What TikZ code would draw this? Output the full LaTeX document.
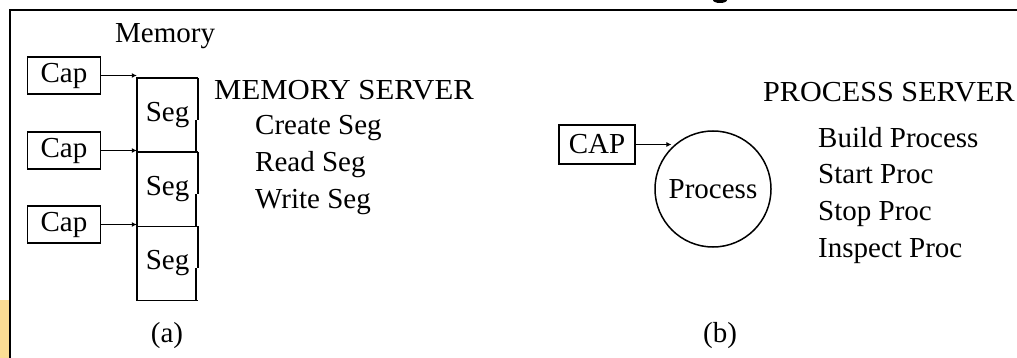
\documentclass[tikz,border=0pt]{standalone}
\usepackage{fontspec}
\setmainfont{Liberation Serif}
\usetikzlibrary{arrows.meta}
\definecolor{tabfill}{RGB}{251,221,148}
\tikzset{
  every node/.style={font=\fontsize{29pt}{36pt}\selectfont, inner sep=0pt},
  capbox/.style={draw, line width=1.5pt, rectangle, minimum width=73pt, minimum height=37pt},
  segcell/.style={rectangle, minimum width=61pt, minimum height=74pt},
  wire/.style={line width=1.5pt, -{Latex[length=5pt,width=5pt]}},
  edge/.style={line width=1.5pt},
  label/.style={anchor=base west},
}
\newcommand{\widecaps}[2][1.06]{\scalebox{#1}[1]{#2}}
\begin{document}
\begin{tikzpicture}[x=1pt, y=-1pt]
  \useasboundingbox (0,0) rectangle (1017,358);
  \fill[white] (0,0) rectangle (1017,358);
  % tab strip at the lower left and frame
  \fill[tabfill] (0,300) rectangle (9,358);
  \draw[line width=2.5pt] (10,360) -- (10,10) -- (1020,10);
  \fill (720,0) ellipse [x radius=7, y radius=3];

  % (a) memory server
  \node[anchor=base west] (memlbl) at (115,43) {Memory};
  \node[capbox] (cap1) at (64,75.5) {Cap};
  \node[capbox] (cap2) at (64,150.5) {Cap};
  \node[capbox] (cap3) at (64,224.5) {Cap};
  \node[segcell] (seg1) at (167.5,115) {Seg};
  \node[segcell] (seg2) at (167.5,189.5) {Seg};
  \node[segcell] (seg3) at (167.5,263.5) {Seg};
  \foreach \s in {seg1,seg2,seg3} {
    \draw[edge] (\s.north east) -- (\s.north west) -- (\s.south west) -- (\s.south east);
    \draw[edge] (\s.north east) -- ([yshift=-42pt]\s.north east);
    \draw[edge] ([xshift=-2pt,yshift=-42pt]\s.north east) -- ([xshift=-2pt]\s.south east);
  }
  \draw[wire] (cap1.east) -- (cap1.east -| seg1.west);
  \draw[wire] (cap2.east) -- (cap2.east -| seg2.west);
  \draw[wire] (cap3.east) -- (cap3.east -| seg3.west);

  \node[label] (msrv) at (214,100) {\widecaps{MEMORY SERVER}};
  \node[label] (mop1) at (255,135) {Create Seg};
  \node[label] (mop2) at (255,172) {Read Seg};
  \node[label] (mop3) at (255,209) {Write Seg};
  \node (capa) at (167,336) {(a)};

  % (b) process server
  \node[capbox, minimum width=76pt, minimum height=39pt] (capp) at (597,144.5) {CAP};
  \node[draw, circle, line width=1.5pt, minimum size=116pt] (proc) at (713,189) {Process};
  \draw[wire] (capp.east) -- (capp.east -| proc.135);

  \node[label] (psrv) at (763,102) {\widecaps[1.04]{PROCESS SERVER}};
  \node[label] (pop1) at (818,148) {Build Process};
  \node[label] (pop2) at (818,184) {Start Proc};
  \node[label] (pop3) at (818,220) {Stop Proc};
  \node[label] (pop4) at (818,257) {Inspect Proc};
  \node (capb) at (720,336) {(b)};
\end{tikzpicture}
\end{document}
